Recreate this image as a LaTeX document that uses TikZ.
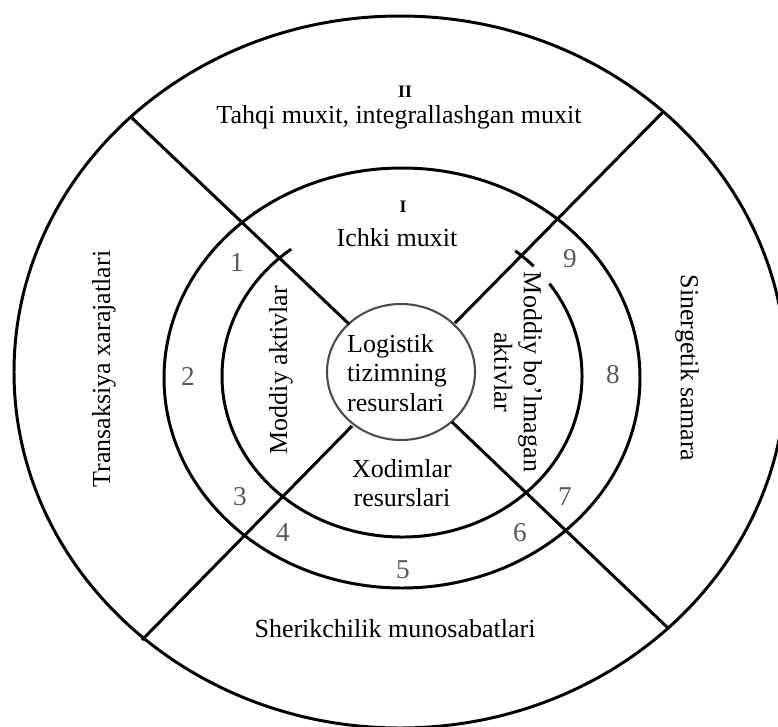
\documentclass[tikz,border=0pt]{standalone}
\usepackage{fontspec}
\setmainfont{Liberation Serif}
\begin{document}
\begin{tikzpicture}[x=0.02cm,y=-0.02cm,
	ring/.style={line width=1.7pt},
	lbl/.style={font=\fontsize{14.8}{16.8}\selectfont,align=center,inner sep=0pt},
	num/.style={font=\fontsize{15.5}{17}\selectfont,text=black!65,inner sep=0pt},
	roman/.style={font=\bfseries\fontsize{10}{11}\selectfont,inner sep=0pt}]
	\useasboundingbox (0,0) rectangle (778,727);

	% rings
	\draw [ring] (400,372) ellipse [x radius=386,y radius=356];
	\draw [ring] (402,378) ellipse [x radius=238,y radius=210];
	\draw [ring] (402,376) ++(-35:180 and 161) arc [start angle=-35,end angle=232,x radius=180,y radius=161];
	\draw [ring] (402,376) ++(-51:180 and 161) arc [start angle=-51,end angle=-43,x radius=180,y radius=161];
	\draw [line width=1.2pt,black!70] (401,372) ellipse [x radius=74,y radius=68];

	% diagonals
	\coordinate (tl) at (132,118); \coordinate (tli) at (349,324);
	\coordinate (tr) at (663,112); \coordinate (tri) at (455,323);
	\coordinate (bl) at (142,640); \coordinate (bli) at (352,426);
	\coordinate (br) at (668,628); \coordinate (bri) at (452,422);
	\draw [ring] (tl) -- (tli);
	\draw [ring] (tr) -- (tri);
	\draw [ring] (bl) -- (bli);
	\draw [ring] (br) -- (bri);

	% labels
	\node [roman] (two) at (405,92) {II};
	\node [lbl] (outer) at (399,117) {Tahqi muxit, integrallashgan muxit};
	\node [roman] (one) at (403,207) {I};
	\node [lbl] (inner) at (397,238) {Ichki muxit};
	\node [lbl,align=left] (res) at (397,373) {Logistik\\tizimning\\resurslari};
	\node [lbl] (staff) at (402,483) {Xodimlar\\resurslari};
	\node [lbl,rotate=90] (mat) at (281,370) {Moddiy aktivlar};
	\node [lbl,rotate=-90] (immat) at (518,372) {Moddiy bo{\char"27}lmagan\\aktivlar};
	\node [lbl,rotate=90] (trans) at (104,369) {Transaksiya xarajatlari};
	\node [lbl,rotate=-90] (syn) at (687,368) {Sinergetik samara};
	\node [lbl] (part) at (395,629) {Sherikchilik munosabatlari};

	% numbers
	\node [num] (n1) at (237,263) {1};
	\node [num] (n2) at (188,376) {2};
	\node [num] (n3) at (240,497) {3};
	\node [num] (n4) at (283,533) {4};
	\node [num] (n5) at (403,570) {5};
	\node [num] (n6) at (520,533) {6};
	\node [num] (n7) at (565,497) {7};
	\node [num] (n8) at (613,375) {8};
	\node [num] (n9) at (570,259) {9};
\end{tikzpicture}
\end{document}
